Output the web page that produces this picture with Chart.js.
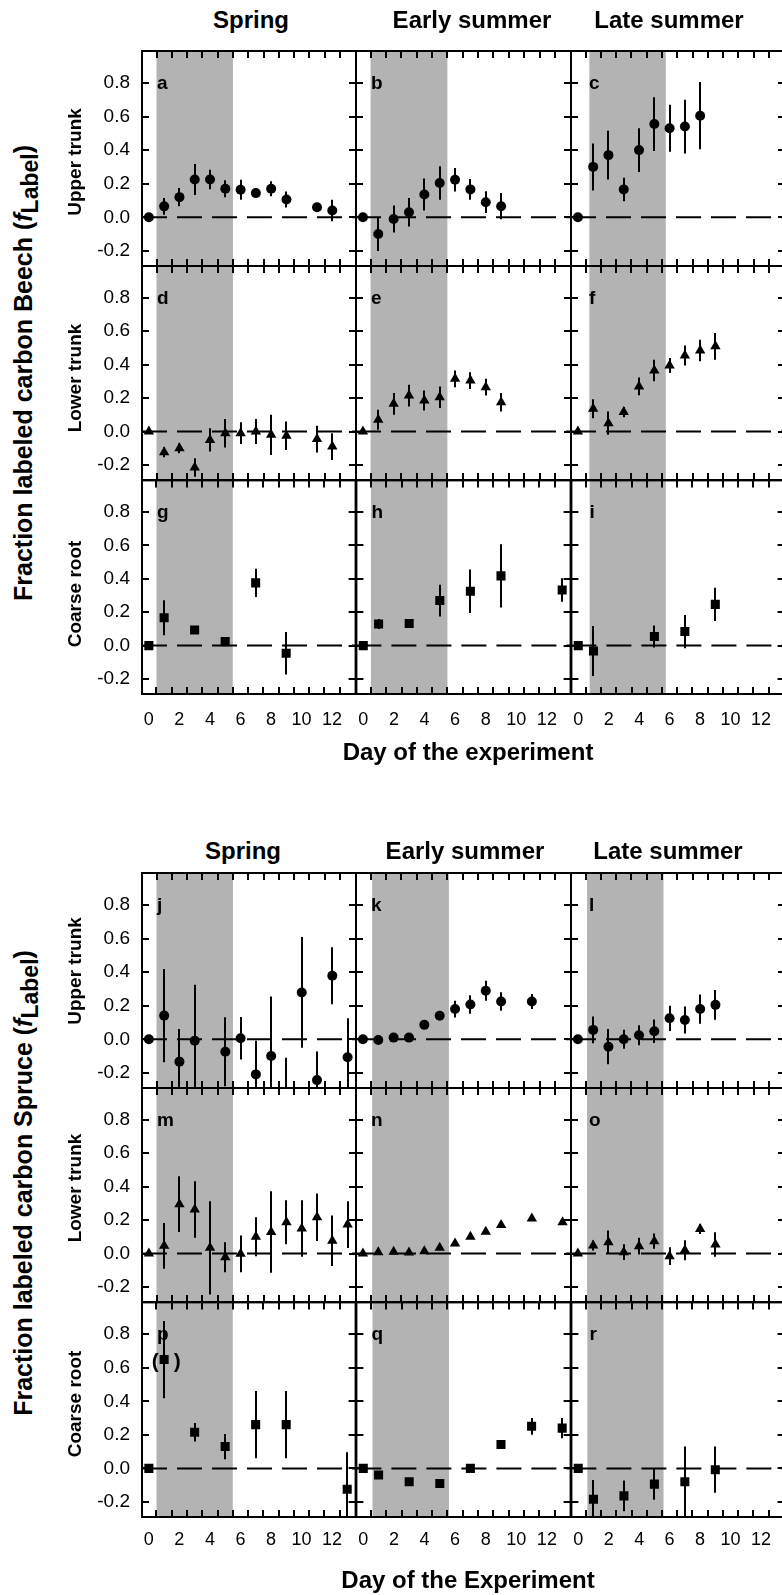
<!DOCTYPE html>
<html>
<head>
<meta charset="utf-8">
<script src="https://cdn.jsdelivr.net/npm/chart.js@4.4.1/dist/chart.umd.min.js"></script>
<style>
  html, body { margin: 0; padding: 0; background: #fff; }
  #fig { position: relative; width: 782px; height: 1595px; overflow: hidden;
         font-family: 'Liberation Sans', Arial, Helvetica, sans-serif; color: #000; }
  #fig canvas { position: absolute; }
  .txt { position: absolute; white-space: nowrap; font-weight: bold; line-height: 1; }
</style>
</head>
<body>
<div id="fig"></div>
<script>
// ---- Beech: fraction of labeled carbon (mean, +/- error) per day ----
// upper trunk
const a_day = [0, 1, 2, 3, 4, 5, 6, 7, 8, 9, 11, 12];
const a_val = [0, 0.065, 0.12, 0.225, 0.225, 0.17, 0.164, 0.144, 0.17, 0.106, 0.06, 0.04];
const a_err = [0, 0.05, 0.055, 0.093, 0.058, 0.05, 0.06, 0.02, 0.045, 0.047, 0.015, 0.064];
const b_day = [0, 1, 2, 3, 4, 5, 6, 7, 8, 9];
const b_val = [0, -0.1, -0.01, 0.03, 0.136, 0.204, 0.224, 0.166, 0.09, 0.066];
const b_err = [0, 0.1, 0.08, 0.085, 0.095, 0.1, 0.07, 0.062, 0.065, 0.078];
const c_day = [0, 1, 2, 3, 4, 5, 6, 7, 8];
const c_val = [0, 0.3, 0.37, 0.166, 0.4, 0.555, 0.53, 0.54, 0.605];
const c_err = [0, 0.14, 0.145, 0.07, 0.13, 0.16, 0.14, 0.16, 0.2];
// lower trunk
const d_day = [0, 1, 2, 3, 4, 5, 6, 7, 8, 9, 11, 12];
const d_val = [0, -0.124, -0.1, -0.215, -0.05, -0.01, -0.01, 0, -0.02, -0.025, -0.045, -0.09];
const d_err = [0, 0.03, 0.03, 0.055, 0.07, 0.085, 0.065, 0.075, 0.12, 0.085, 0.08, 0.08];
const e_day = [0, 1, 2, 3, 4, 5, 6, 7, 8, 9];
const e_val = [0, 0.07, 0.166, 0.215, 0.186, 0.205, 0.315, 0.305, 0.265, 0.175];
const e_err = [0, 0.06, 0.065, 0.065, 0.06, 0.065, 0.05, 0.05, 0.05, 0.055];
const f_day = [0, 1, 2, 3, 4, 5, 6, 7, 8, 9];
const f_val = [0, 0.136, 0.05, 0.116, 0.27, 0.365, 0.395, 0.455, 0.485, 0.51];
const f_err = [0, 0.057, 0.07, 0.03, 0.053, 0.065, 0.045, 0.06, 0.064, 0.08];
// coarse root
const g_day = [0, 1, 3, 5, 7, 9];
const g_val = [0, 0.167, 0.094, 0.024, 0.376, -0.046];
const g_err = [0, 0.105, 0.02, 0.02, 0.085, 0.127];
const h_day = [0, 1, 3, 5, 7, 9, 13];
const h_val = [0, 0.13, 0.133, 0.27, 0.326, 0.418, 0.333];
const h_err = [0, 0.03, 0.02, 0.095, 0.13, 0.19, 0.07];
const i_day = [0, 1, 5, 7, 9];
const i_val = [0, -0.032, 0.054, 0.084, 0.247];
const i_err = [0, 0.15, 0.066, 0.1, 0.1];

// ---- Spruce ----
// upper trunk
const j_day = [0, 1, 2, 3, 5, 6, 7, 8, 9, 10, 11, 12, 13];
const j_val = [0, 0.141, -0.133, -0.008, -0.074, 0.006, -0.209, -0.1, -0.4, 0.279, -0.243, 0.378, -0.107];
const j_err = [0, 0.277, 0.195, 0.332, 0.205, 0.127, 0.2, 0.355, 0.29, 0.33, 0.17, 0.17, 0.232];
const k_day = [0, 1, 2, 3, 4, 5, 6, 7, 8, 9, 11];
const k_val = [0, -0.004, 0.01, 0.01, 0.086, 0.14, 0.18, 0.207, 0.289, 0.225, 0.225];
const k_err = [0, 0, 0, 0, 0.01, 0.02, 0.05, 0.055, 0.06, 0.055, 0.045];
const l_day = [0, 1, 2, 3, 4, 5, 6, 7, 8, 9];
const l_val = [0, 0.056, -0.044, 0, 0.024, 0.048, 0.125, 0.115, 0.18, 0.205];
const l_err = [0, 0.08, 0.105, 0.057, 0.06, 0.07, 0.075, 0.08, 0.087, 0.089];
// lower trunk
const m_day = [0, 1, 2, 3, 4, 5, 6, 7, 8, 9, 10, 11, 12, 13];
const m_val = [0, 0.046, 0.295, 0.263, 0.034, -0.022, -0.002, 0.1, 0.129, 0.187, 0.149, 0.217, 0.076, 0.173];
const m_err = [0, 0.137, 0.167, 0.169, 0.279, 0.09, 0.11, 0.117, 0.244, 0.132, 0.169, 0.142, 0.151, 0.14];
const n_day = [0, 1, 2, 3, 4, 5, 6, 7, 8, 9, 11, 13];
const n_val = [0, 0.008, 0.01, 0.006, 0.014, 0.034, 0.06, 0.1, 0.13, 0.17, 0.21, 0.187];
const n_err = [0, 0, 0, 0, 0, 0, 0, 0, 0, 0.01, 0, 0.01];
const o_day = [0, 1, 2, 3, 4, 5, 6, 7, 8, 9];
const o_val = [0, 0.048, 0.068, 0.008, 0.044, 0.074, -0.016, 0.02, 0.147, 0.054];
const o_err = [0, 0.03, 0.07, 0.047, 0.05, 0.045, 0.053, 0.06, 0.03, 0.073];
// coarse root
const p_day = [0, 1, 3, 5, 7, 9, 13];
const p_val = [0, 0.649, 0.216, 0.13, 0.261, 0.261, -0.124];
const p_err = [0, 0.23, 0.055, 0.075, 0.2, 0.2, 0.22];
const q_day = [0, 1, 3, 5, 7, 9, 11, 13];
const q_val = [0, -0.04, -0.08, -0.09, 0, 0.142, 0.251, 0.24];
const q_err = [0, 0, 0, 0, 0, 0.02, 0.05, 0.06];
const r_day = [0, 1, 3, 5, 7, 9];
const r_val = [0, -0.184, -0.164, -0.094, -0.08, -0.008];
const r_err = [0, 0.114, 0.092, 0.093, 0.21, 0.138];

// labeling period (grey band) per season column
const pulseBeech = [[0.5, 5.5], [0.5, 5.5], [0.75, 5.75]];
const pulseSpruce = [[0.5, 5.5], [0.6, 5.6], [0.6, 5.6]];

// axis ticks
const X_LABELS = [0, 2, 4, 6, 8, 10, 12];
const X_TICK_MARKS = [0.5, 1.5, 2.5, 3.5, 4.5, 5.5, 6.5, 7.5, 8.5, 9.5, 10.5, 11.5, 12.5];
const Y_TICKS = [-0.2, 0, 0.2, 0.4, 0.6, 0.8];

const seasons = ['Spring', 'Early summer', 'Late summer'];
const tissues = ['Upper trunk', 'Lower trunk', 'Coarse root'];

// ---- layout ----
const X_MIN = -0.45, X_MAX = 13.55;
const Y_MIN = -0.29, Y_MAX = 0.99;
const COL_X = [142, 356, 571, 785];
const ROW_Y = [[51, 266, 480, 694], [873, 1088, 1302, 1517]];
const EDGE = 6, Y_AXIS_W = 60, X_AXIS_H = 45, TICK_LEN = 7;
const SHADE = '#b3b3b3';
const FONT = "'Liberation Sans', Arial, Helvetica, sans-serif";
const MARKERS = [
  { style: 'circle', r: 5 },
  { style: 'triangle', r: 6 },
  { style: 'rect', r: 6.4 }
];

const SERIES = {
  a: [a_day, a_val, a_err], b: [b_day, b_val, b_err], c: [c_day, c_val, c_err],
  d: [d_day, d_val, d_err], e: [e_day, e_val, e_err], f: [f_day, f_val, f_err],
  g: [g_day, g_val, g_err], h: [h_day, h_val, h_err], i: [i_day, i_val, i_err],
  j: [j_day, j_val, j_err], k: [k_day, k_val, k_err], l: [l_day, l_val, l_err],
  m: [m_day, m_val, m_err], n: [n_day, n_val, n_err], o: [o_day, o_val, o_err],
  p: [p_day, p_val, p_err], q: [q_day, q_val, q_err], r: [r_day, r_val, r_err]
};

Chart.defaults.font.family = FONT;
Chart.defaults.color = '#000';

const fig = document.getElementById('fig');

// grey band, error bars, frame with inward ticks and the panel letter
function panelDecor(letter, col, days, vals, errs, pulse, bracket) {
  return {
    id: 'panelDecor',
    beforeDatasetsDraw(chart) {
      const { ctx, chartArea: a, scales: { x } } = chart;
      const x0 = x.getPixelForValue(pulse[0]);
      const x1 = x.getPixelForValue(pulse[1]);
      ctx.save();
      ctx.fillStyle = SHADE;
      ctx.fillRect(x0, a.top, x1 - x0, a.bottom - a.top);
      ctx.restore();
    },
    beforeDatasetDraw(chart, args) {
      if (args.index !== 0) return;
      const { ctx, chartArea: a, scales: { x, y } } = chart;
      ctx.save();
      ctx.beginPath();
      ctx.rect(a.left, a.top, a.right - a.left, a.bottom - a.top);
      ctx.clip();
      ctx.strokeStyle = '#000';
      ctx.lineWidth = 2;
      days.forEach((d, i) => {
        if (!errs[i]) return;
        const px = Math.round(x.getPixelForValue(d));
        ctx.beginPath();
        ctx.moveTo(px, y.getPixelForValue(vals[i] - errs[i]));
        ctx.lineTo(px, y.getPixelForValue(vals[i] + errs[i]));
        ctx.stroke();
      });
      ctx.restore();
    },
    afterDatasetsDraw(chart) {
      const { ctx, chartArea: a, scales: { x, y } } = chart;
      ctx.save();
      ctx.strokeStyle = '#000';
      ctx.lineWidth = 2;
      ctx.strokeRect(a.left, a.top, a.right - a.left, a.bottom - a.top);
      ctx.beginPath();
      X_TICK_MARKS.forEach(d => {
        if (d <= X_MIN || d >= X_MAX) return;
        const px = Math.round(x.getPixelForValue(d));
        ctx.moveTo(px, a.top); ctx.lineTo(px, a.top + TICK_LEN);
        ctx.moveTo(px, a.bottom); ctx.lineTo(px, a.bottom - TICK_LEN);
      });
      Y_TICKS.forEach(v => {
        const py = Math.round(y.getPixelForValue(v));
        ctx.moveTo(a.left, py); ctx.lineTo(a.left + TICK_LEN, py);
        ctx.moveTo(a.right, py); ctx.lineTo(a.right - TICK_LEN, py);
      });
      ctx.stroke();

      ctx.fillStyle = '#000';
      ctx.font = 'bold 19px ' + FONT;
      ctx.textAlign = 'left';
      ctx.textBaseline = 'alphabetic';
      ctx.fillText(letter, a.left + (col === 2 ? 18 : 15), y.getPixelForValue(0.8) + 6);

      // questionable value shown in brackets
      if (bracket != null) {
        const px = x.getPixelForValue(days[bracket]);
        const py = y.getPixelForValue(vals[bracket]) + 3;
        ctx.font = 'bold 21px ' + FONT;
        ctx.textAlign = 'center';
        ctx.textBaseline = 'middle';
        ctx.fillText('(', px - 9, py);
        ctx.fillText(')', px + 13, py);
      }
      ctx.restore();
    }
  };
}

function makePanel(letter, k, block) {
  const row = Math.floor(k / 3), col = k % 3;
  const [days, vals, errs] = SERIES[letter];
  const pulse = (block ? pulseSpruce : pulseBeech)[col];
  const L = COL_X[col], R = COL_X[col + 1];
  const T = ROW_Y[block][row], B = ROW_Y[block][row + 1];
  const showY = col === 0, showX = row === 2;
  const padL = showY ? Y_AXIS_W : EDGE;
  const padB = showX ? X_AXIS_H : EDGE;

  const canvas = document.createElement('canvas');
  canvas.width = R - L + padL + EDGE;
  canvas.height = B - T + EDGE + padB;
  canvas.style.left = (L - padL) + 'px';
  canvas.style.top = (T - EDGE) + 'px';
  fig.appendChild(canvas);

  const mk = MARKERS[row];
  const bracket = letter === 'p' ? 1 : null;

  new Chart(canvas, {
    type: 'scatter',
    data: {
      datasets: [{
        data: days.map((d, i) => ({ x: d, y: vals[i] })),
        pointStyle: mk.style,
        pointRadius: mk.r,
        pointBackgroundColor: '#000',
        pointBorderWidth: 0,
        order: 0
      }, {
        type: 'line',
        data: [{ x: X_MIN, y: 0 }, { x: X_MAX, y: 0 }],
        borderColor: '#000',
        borderWidth: 2,
        borderDash: [25, 10],
        pointRadius: 0,
        order: 1
      }]
    },
    options: {
      responsive: false,
      devicePixelRatio: 1,
      animation: false,
      events: [],
      layout: { padding: { left: showY ? 0 : EDGE, right: EDGE, top: EDGE, bottom: showX ? 0 : EDGE } },
      plugins: { legend: { display: false }, tooltip: { enabled: false } },
      scales: {
        x: {
          type: 'linear',
          min: X_MIN,
          max: X_MAX,
          display: showX,
          grid: { display: false, drawTicks: false },
          border: { display: false },
          ticks: {
            font: { size: 18 },
            color: '#000',
            padding: block ? 12 : 15,
            autoSkip: false,
            maxRotation: 0,
            callback: v => String(v)
          },
          afterBuildTicks: s => { s.ticks = X_LABELS.map(v => ({ value: v })); },
          afterFit: s => {
            s.height = showX ? X_AXIS_H : 0;
            s.paddingLeft = s.paddingRight = s.paddingTop = s.paddingBottom = 0;
          }
        },
        y: {
          type: 'linear',
          min: Y_MIN,
          max: Y_MAX,
          display: showY,
          grid: { display: false, drawTicks: false },
          border: { display: false },
          ticks: {
            font: { size: 19 },
            color: '#000',
            padding: 12,
            callback: v => v.toFixed(1)
          },
          afterBuildTicks: s => { s.ticks = Y_TICKS.map(v => ({ value: v })); },
          afterFit: s => {
            s.width = showY ? Y_AXIS_W : 0;
            s.paddingLeft = s.paddingRight = s.paddingTop = s.paddingBottom = 0;
          }
        }
      }
    },
    plugins: [panelDecor(letter, col, days, vals, errs, pulse, bracket)]
  });
}

// html text: x = centre, y = baseline (or centre when rotated)
function addText(html, x, y, size, rotated) {
  const el = document.createElement('div');
  el.className = 'txt';
  el.style.fontSize = size + 'px';
  el.innerHTML = html;
  el.style.left = x + 'px';
  if (rotated) {
    el.style.top = y + 'px';
    el.style.transform = 'translate(-50%, -50%) rotate(-90deg)';
  } else {
    el.style.top = (y - 0.8465 * size) + 'px';
    el.style.transform = 'translateX(-50%)';
  }
  fig.appendChild(el);
}

'abcdefghi'.split('').forEach((ltr, k) => makePanel(ltr, k, 0));
'jklmnopqr'.split('').forEach((ltr, k) => makePanel(ltr, k, 1));

const fLabel = '(<i>f</i><span style="position:relative;top:6px;font-size:0.92em">Label</span>)';

// Beech block
[251, 472, 669].forEach((cx, i) => addText(seasons[i], cx, 28, 24));
[162, 378, 594].forEach((cy, i) => addText(tissues[i], 74, cy, 19, true));
addText('Fraction labeled carbon Beech ' + fLabel, 23, 373, 25, true);
addText('Day of the experiment', 468, 760, 24);

// Spruce block
[243, 465, 668].forEach((cx, i) => addText(seasons[i], cx, 859, 24));
[971, 1188, 1404].forEach((cy, i) => addText(tissues[i], 74, cy, 19, true));
addText('Fraction labeled carbon Spruce ' + fLabel, 23, 1183, 25, true);
addText('Day of the Experiment', 468, 1588, 24);
</script>
</body>
</html>
